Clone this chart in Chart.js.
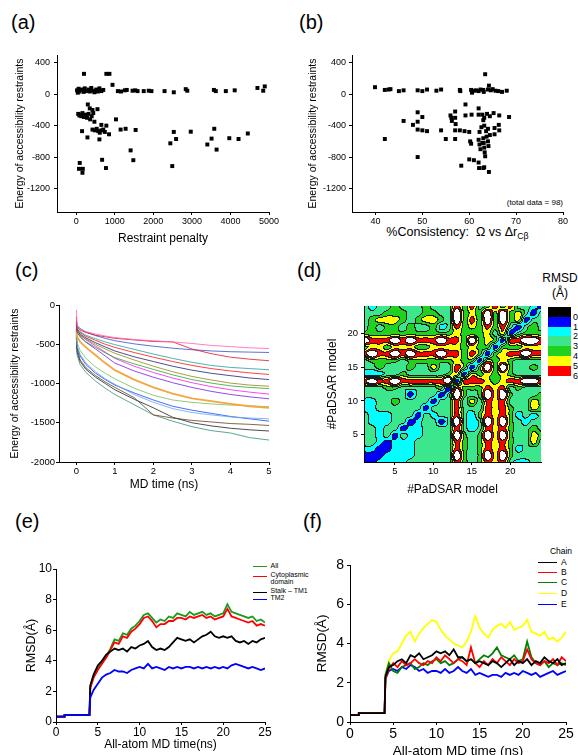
<!DOCTYPE html>
<html>
<head>
<meta charset="utf-8">
<script src="https://cdn.jsdelivr.net/npm/chart.js@4.4.1/dist/chart.umd.min.js"></script>
<style>
  html, body { margin: 0; padding: 0; background: #fff; }
  body { width: 578px; height: 755px; position: relative; overflow: hidden;
         font-family: 'Liberation Sans', Arial, sans-serif; color: #000; }
  canvas { position: absolute; }
  .t { position: absolute; white-space: nowrap; }
  .tag { font-size: 20px; line-height: 20px; }
  .swatch { position: absolute; height: 0; }
  sub { font-size: 70%; vertical-align: -0.35em; line-height: 0; }
</style>
</head>
<body>
<div class="t tag" style="left:11px;top:12px">(a)</div>
<div class="t tag" style="left:299px;top:12px">(b)</div>
<div class="t tag" style="left:15px;top:260px">(c)</div>
<div class="t tag" style="left:297px;top:260px">(d)</div>
<div class="t tag" style="left:15px;top:511px">(e)</div>
<div class="t tag" style="left:303px;top:511px">(f)</div>

<div class="t" style="left:352px;top:226px;width:211px;text-align:center;font-size:12.5px;line-height:13px">%Consistency:&nbsp; &Omega; vs &Delta;r<sub>C&beta;</sub></div>
<div class="t" style="left:463px;top:198px;width:100px;text-align:right;font-size:8px;line-height:10px">(total data = 98)</div>

<div class="t" style="left:540px;top:271px;width:40px;text-align:center;font-size:12px;line-height:14px">RMSD</div>
<div class="t" style="left:540px;top:286px;width:40px;text-align:center;font-size:12px;line-height:14px">(&Aring;)</div>
<div id="colorbar"></div>
<div id="legendE"></div>
<div id="legendF"></div>

<script>
const FONT = "'Liberation Sans', Arial, sans-serif";
Chart.defaults.font.family = FONT;
Chart.defaults.color = '#000';

// ---------- (a) energy vs restraint penalty ----------
const penaltyA = [20, 40, 60, 80, 110, 160, 190, 220, 250, 320, 350, 390, 430, 470, 520, 560, 600, 650, 700,
  1080, 1160, 1260, 1310, 1460, 1530, 1590, 1750, 1880, 1950, 2290, 2530, 2840, 2880, 3570, 3620, 3880, 4110, 4700, 4850, 4890,
  200, 780, 860, 940,
  300, 350, 420, 550, 50, 80, 100, 130, 160, 200, 240, 280, 320, 360, 400, 440, 470, 1030,
  150, 420, 480, 530, 570, 610, 650, 700, 740, 780, 650, 850, 1150, 1280, 1540, 2530, 2970, 3580, 4450,
  290, 600, 2440, 2590, 3400, 3510, 3640, 3970, 4210, 1410,
  670, 1480, 2490, 770, 90, 70, 170, 160];
const energyA = [50, 20, 70, 35, 55, 60, 30, 75, 40, 60, 35, 80, 45, 25, 60, 35, 75, 40, 55,
  40, 35, 50, 55, 45, 50, 40, 40, 45, 40, 40, 25, 65, 45, 55, 40, 40, 50, 80, 45, 100,
  260, 260, 260, 120,
  -130, -180, -200, -190, -250, -270, -260, -280, -240, -290, -260, -300, -250, -320, -280, -240, -350, -320,
  -470, -450, -460, -440, -470, -490, -460, -450, -480, -400, -390, -510, -450, -440, -455, -480, -477, -440, -500,
  -550, -575, -625, -570, -640, -565, -705, -560, -570, -715,
  -835, -840, -915, -940, -875, -950, -950, -1000];
const penaltyTicks = [0, 1000, 2000, 3000, 4000, 5000];
const energyTicks = [-1200, -800, -400, 0, 400];

// ---------- (b) energy vs %consistency ----------
const consistencyB = [39.9, 42, 42.8, 43.2, 45, 46, 49, 50, 51, 53, 54, 58, 58.1, 60.4, 60.6, 61, 61.5, 62, 62.4, 63, 63.1, 63.4, 64, 64.2, 64.6, 65, 65.6, 66.2, 67, 68,
  59.2, 49, 62, 57,
  49, 50, 46, 48, 56, 56.2, 57, 59.2, 60.5, 62, 62.8, 63.2, 63.8, 64.4, 65.2, 66.4, 68.5, 63,
  49, 50, 51, 54, 57, 58, 59, 60, 66.3, 65.4, 66.4, 64, 64.4, 65.4, 62.6, 63.2, 63.6, 62.2, 56.3, 57.1,
  42, 55, 57, 60.2, 60.4, 62, 62.2, 62.4, 63, 63.1, 63.2, 63.3, 63.4, 64, 64.1, 62.8, 63.7, 49,
  60, 61, 58.3, 62, 62.1, 63, 64.2, 63.2];
const energyB = [90, 55, 60, 65, 40, 50, 50, 40, 60, 45, 60, 55, 40, 55, 20, 45, 50, 40, 60, 55, 30, 255, 60, 110, 50, 65, 45, 40, 30, 45,
  -130, -230, -180, -220,
  -350, -290, -340, -390, -270, -300, -300, -270, -260, -260, -260, -300, -250, -280, -240, -270, -290, -330,
  -450, -460, -470, -460, -460, -460, -470, -480, -390, -430, -460, -440, -520, -510, -420, -400, -470, -480, -340, -380,
  -570, -570, -570, -600, -630, -580, -640, -700, -560, -620, -680, -740, -790, -600, -660, -620, -540, -800,
  -830, -840, -910, -870, -940, -940, -990, -930];
const consistencyTicks = [40, 50, 60, 70, 80];

// ---------- (c) accessibility energy during MD ----------
const mdTime = [0, 0.02, 0.1, 0.25, 0.5, 0.75, 1, 1.5, 2, 2.5, 3, 3.5, 4, 4.5, 5];
const mdRuns = [
  [-60, -270, -310, -340, -370, -395, -415, -440, -455, -470, -490, -515, -530, -545, -555],
  [-150, -280, -320, -350, -385, -405, -425, -445, -465, -470, -560, -620, -665, -690, -710],
  [-200, -260, -300, -345, -390, -425, -455, -495, -525, -550, -570, -585, -595, -600, -605],
  [-220, -300, -340, -385, -430, -470, -505, -565, -625, -680, -730, -770, -795, -810, -825],
  [-230, -305, -350, -400, -450, -500, -540, -605, -665, -720, -770, -810, -840, -865, -885],
  [-250, -320, -370, -420, -480, -535, -585, -660, -720, -780, -830, -870, -900, -930, -950],
  [-240, -330, -385, -435, -500, -560, -615, -700, -780, -850, -910, -955, -995, -1020, -1035],
  [-260, -345, -405, -470, -540, -610, -670, -750, -820, -890, -950, -995, -1030, -1050, -1065],
  [-250, -330, -385, -445, -520, -600, -680, -780, -860, -930, -990, -1040, -1080, -1110, -1135],
  [-265, -345, -405, -475, -560, -650, -740, -840, -920, -990, -1050, -1100, -1140, -1170, -1195],
  [-300, -400, -470, -540, -640, -740, -830, -950, -1050, -1130, -1190, -1225, -1260, -1290, -1310],
  [-330, -480, -580, -680, -790, -870, -940, -1060, -1150, -1210, -1240, -1260, -1275, -1285, -1295],
  [-350, -520, -630, -740, -850, -940, -1010, -1140, -1240, -1320, -1370, -1400, -1425, -1440, -1450],
  [-360, -540, -650, -760, -870, -950, -1020, -1120, -1210, -1290, -1340, -1380, -1420, -1450, -1480],
  [-380, -560, -700, -800, -900, -980, -1050, -1180, -1400, -1440, -1470, -1490, -1510, -1520, -1535],
  [-400, -600, -720, -820, -920, -1000, -1080, -1200, -1310, -1430, -1500, -1540, -1570, -1590, -1605],
  [-420, -640, -760, -860, -970, -1060, -1140, -1270, -1400, -1480, -1550, -1600, -1630, -1690, -1720]
];
const mdRunColors = ['#ff5fb0', '#e0102a', '#3050c8', '#20a0a0', '#ff1010', '#202070', '#8a8a10', '#30a030', '#f020f0',
  '#7020e0', '#f4a640', '#70c050', '#60a8e0', '#2040ff', '#604020', '#202020', '#309080'];
const mdTimeTicks = [0, 1, 2, 3, 4, 5];
const mdEnergyTicks = [-2000, -1500, -1000, -500, 0];

// ---------- (d) pairwise RMSD map, rows from model 24 (top) down to model 1 ----------
const rmsdRows = [
  '323343334333646346463321',
  '333444334433845484845313',
  '345554345543846484845133',
  '343443433423645464631343',
  '444444444444544453513444',
  '866686866686648454166886',
  '455455544555545441444555',
  '686686866686646414566866',
  '344443444444544154543333',
  '334333433533641484843343',
  '222334333334515454543333',
  '686686666668166654566886',
  '333443333341644465634333',
  '333333133313843485843334',
  '223343333133635365633354',
  '223333331333633365643354',
  '322233313233632465642323',
  '322233123313832385843233',
  '332331223333632365643343',
  '332313223333843485843354',
  '332122233333643465643353',
  '221122233333643465642333',
  '111222233333843485843333',
  '112222333333643465632233'
];
const rmsdColors = ['#000000', '#0000ff', '#00ffff', '#3ce68c', '#1ed21e', '#ffff00', '#ff0000', '#ffffff'];
const rmsdLabels = ['0', '1', '2', '3', '4', '5', '6'];
const modelTicks = [5, 10, 15, 20];

// ---------- (e) RMSD by region ----------
const aaTime = [0, 1, 1.02, 4, 4.1, 4.5, 5, 5.5, 6, 6.5, 7, 7.5, 8, 8.5, 9, 9.5, 10, 10.5, 11, 11.5, 12, 12.5, 13, 13.5,
  14, 14.5, 15, 15.5, 16, 16.5, 17, 17.5, 18, 18.5, 19, 19.5, 20, 20.5, 21, 21.5, 22, 22.5, 23, 23.5, 24, 24.5, 25];
const rmsdAll = [0.35, 0.35, 0.45, 0.45, 2.3, 3.0, 3.5, 3.9, 4.3, 4.8, 5.4, 5.3, 5.8, 5.7, 6.1, 6.3, 6.6, 7.0, 7.1, 6.8,
  6.5, 6.7, 6.6, 6.9, 6.8, 7.1, 7.0, 6.9, 7.2, 7.0, 7.1, 7.2, 7.0, 7.1, 6.9, 7.0, 7.1, 7.7, 7.2, 7.1, 7.0, 6.9, 6.8, 6.9, 6.6, 6.7, 6.5];
const rmsdCyto = [0.35, 0.35, 0.45, 0.45, 2.2, 2.9, 3.4, 3.8, 4.2, 4.7, 5.2, 5.1, 5.6, 5.5, 5.9, 6.1, 6.4, 6.8, 6.9, 6.6,
  6.2, 6.4, 6.4, 6.6, 6.6, 6.8, 6.8, 6.7, 6.9, 6.8, 6.9, 7.0, 6.8, 6.9, 6.7, 6.8, 6.9, 7.4, 6.9, 6.8, 6.7, 6.6, 6.5, 6.6, 6.3, 6.4, 6.3];
const rmsdStalk = [0.35, 0.35, 0.45, 0.45, 2.4, 3.1, 3.7, 4.0, 4.4, 4.6, 4.8, 4.7, 4.8, 4.6, 4.9, 4.8, 5.0, 5.1, 5.3, 4.9,
  4.7, 4.8, 4.7, 4.9, 5.2, 5.5, 5.4, 5.3, 5.4, 5.2, 5.4, 5.6, 5.7, 5.9, 5.6, 5.5, 5.6, 5.5, 5.6, 5.3, 5.2, 5.3, 5.1, 5.3, 5.2, 5.4, 5.5];
const rmsdTM2 = [0.35, 0.35, 0.45, 0.45, 1.6, 2.1, 2.5, 2.9, 3.1, 3.2, 3.4, 3.3, 3.3, 3.2, 3.4, 3.5, 3.6, 3.5, 3.8, 3.5,
  3.6, 3.5, 3.4, 3.6, 3.5, 3.6, 3.5, 3.6, 3.6, 3.5, 3.6, 3.5, 3.6, 3.5, 3.6, 3.5, 3.6, 3.5, 3.7, 3.8, 3.7, 3.6, 3.5, 3.6, 3.5, 3.4, 3.5];
const regionLabels = ['All', 'Cytoplasmic<br>domain', 'Stalk \u2013 TM1', 'TM2'];
const regionColors = ['#1a9a1a', '#ff0000', '#000000', '#0000ff'];

// ---------- (f) RMSD by chain ----------
const chainA = [0.35, 0.35, 0.45, 0.45, 2.3, 2.8, 2.9, 3.1, 3.2, 3.0, 3.4, 3.3, 3.5, 3.2, 3.3, 3.4, 3.6, 3.5, 3.6, 3.4,
  3.7, 3.3, 3.3, 3.1, 3.2, 3.0, 3.1, 3.0, 2.9, 3.1, 3.0, 2.8, 3.0, 3.2, 2.9, 3.1, 3.0, 3.2, 2.9, 3.1, 3.0, 3.3, 3.1, 3.0, 3.2, 2.9, 3.0];
const chainB = [0.35, 0.35, 0.45, 0.45, 2.2, 2.7, 3.0, 2.8, 3.1, 2.9, 3.0, 3.2, 3.0, 2.9, 3.1, 3.0, 3.3, 3.1, 3.4, 3.2,
  3.0, 3.2, 3.1, 2.9, 3.8, 3.0, 2.8, 3.1, 2.9, 3.2, 3.0, 3.3, 3.1, 2.9, 3.2, 3.0, 3.1, 3.7, 3.2, 3.0, 2.9, 3.1, 3.0, 3.2, 2.9, 3.3, 3.1];
const chainC = [0.35, 0.35, 0.45, 0.45, 2.4, 3.0, 2.6, 2.5, 2.8, 2.9, 3.0, 2.7, 2.8, 3.0, 2.9, 3.1, 3.2, 3.0, 3.1, 2.9,
  3.0, 3.2, 3.3, 3.1, 3.2, 3.0, 3.2, 3.4, 3.3, 3.5, 3.8, 3.4, 3.3, 3.2, 3.4, 3.1, 3.2, 4.1, 3.3, 3.0, 2.9, 3.1, 2.8, 3.0, 2.9, 3.0, 2.9];
const chainD = [0.35, 0.35, 0.45, 0.45, 2.4, 3.1, 3.5, 3.6, 4.0, 4.4, 4.6, 4.1, 4.5, 4.8, 5.0, 5.2, 5.1, 4.7, 4.4, 4.2,
  4.0, 3.9, 3.8, 4.1, 4.6, 5.4, 4.8, 4.5, 4.3, 4.7, 4.9, 5.0, 4.8, 5.1, 4.7, 4.8, 4.9, 5.2, 4.6, 4.5, 4.4, 4.6, 4.2, 4.3, 4.1, 4.3, 4.6];
const chainE = [0.35, 0.35, 0.45, 0.45, 2.2, 2.6, 2.7, 2.6, 2.8, 2.7, 2.9, 2.8, 2.6, 2.7, 2.5, 2.6, 2.6, 2.5, 2.7, 2.5,
  2.6, 2.8, 2.6, 2.5, 2.7, 2.4, 2.5, 2.4, 2.3, 2.4, 2.4, 2.3, 2.5, 2.4, 2.5, 2.4, 2.6, 2.5, 2.4, 2.5, 2.3, 2.4, 2.5, 2.6, 2.4, 2.5, 2.6];
const chainLabels = ['A', 'B', 'C', 'D', 'E'];
const chainColors = ['#000000', '#ff0000', '#008000', '#ffff00', '#0000ff'];
const aaTimeTicks = [0, 5, 10, 15, 20, 25];

// ---------- layout: panel box, plot area [l, t, r, b], title centres ----------
const PANELS = {
  a: { box: [0, 0, 289, 252], area: [57, 55, 269, 212], yTitleX: 20, xTitleY: 239 },
  b: { box: [289, 0, 289, 252], area: [352, 55, 563, 212], yTitleX: 313, xTitleY: 224 },
  c: { box: [0, 252, 289, 253], area: [59, 305, 269, 462], yTitleX: 15, xTitleY: 485 },
  d: { box: [289, 252, 289, 253], area: [364, 306, 541, 462], yTitleX: 333, xTitleY: 490 },
  e: { box: [0, 505, 289, 250], area: [56, 569, 265, 722], yTitleX: 32, xTitleY: 745 },
  f: { box: [289, 505, 289, 250], area: [350, 565, 566, 722], yTitleX: 322, xTitleY: 751 }
};

function axis(o, boxSize, horizontal) {
  return {
    type: 'linear', min: o.min, max: o.max,
    afterBuildTicks: s => { s.ticks = o.ticks.map(v => ({ value: v })); },
    afterFit: s => { if (horizontal) s.height = boxSize; else s.width = boxSize; },
    border: { display: true, color: '#000', width: 1, z: 1 },
    grid: { drawOnChartArea: false, drawTicks: true, tickLength: o.tickLen || 3, tickColor: '#000', tickWidth: 1 },
    ticks: { font: { size: o.fs }, padding: o.pad, maxRotation: 0, autoSkip: false, color: '#000',
             callback: v => String(v) },
    title: { display: !!o.title, text: o.title, font: { size: o.tfs || 10 }, padding: 0, color: '#000' }
  };
}

function makeChart(key, datasets, xo, yo, plugins) {
  const cfg = PANELS[key];
  const [px, py, pw, ph] = cfg.box;
  const [l, t, r, b] = cfg.area;
  const yBox = l - (cfg.yTitleX - 0.6 * yo.tfs);
  const xBox = (cfg.xTitleY + 0.6 * (xo.tfs || 10)) - b;
  const cv = document.createElement('canvas');
  cv.width = pw; cv.height = ph;
  cv.style.left = px + 'px'; cv.style.top = py + 'px';
  document.body.appendChild(cv);
  return new Chart(cv, {
    type: 'scatter',
    data: { datasets },
    options: {
      responsive: false, animation: false, devicePixelRatio: 1,
      layout: { padding: { left: l - yBox - px, top: t - py, right: px + pw - r, bottom: py + ph - b - xBox } },
      plugins: { legend: { display: false }, tooltip: { enabled: false } },
      scales: { x: axis(xo, xBox, true), y: axis(yo, yBox, false) }
    },
    plugins: plugins || []
  });
}

const pts = (xs, ys) => xs.map((x, i) => ({ x, y: ys[i] }));
const squares = (xs, ys) => ({ data: pts(xs, ys), pointStyle: 'rect', pointRadius: 2.8,
  backgroundColor: '#000', borderWidth: 0 });
const line = (xs, ys, color, width) => ({ data: pts(xs, ys), showLine: true, pointRadius: 0,
  borderColor: color, borderWidth: width, tension: 0 });

// (a)
makeChart('a', [squares(penaltyA, energyA)],
  { min: -500, max: 5000, ticks: penaltyTicks, fs: 9, pad: 1, tickLen: 3, title: 'Restraint penalty', tfs: 12 },
  { min: -1500, max: 500, ticks: energyTicks, fs: 9, pad: 4, tickLen: 3, title: 'Energy of accessibility restraints', tfs: 10.5 });

// (b)
makeChart('b', [squares(consistencyB, energyB)],
  { min: 35, max: 80, ticks: consistencyTicks, fs: 9, pad: 1, tickLen: 3, tfs: 10 },
  { min: -1500, max: 500, ticks: energyTicks, fs: 9, pad: 3, tickLen: 3, title: 'Energy of accessibility restraints', tfs: 10.5 });

// (c)
makeChart('c', mdRuns.map((run, i) => line(mdTime, run, mdRunColors[i], i === 10 ? 1.8 : 0.8)),
  { min: -0.45, max: 5, ticks: mdTimeTicks, fs: 9.5, pad: 1, tickLen: 3, title: 'MD time (ns)', tfs: 12 },
  { min: -2000, max: 0, ticks: mdEnergyTicks, fs: 9.5, pad: 1, tickLen: 3, title: 'Energy of accessibility restraints', tfs: 10.5 });

// (d) contour map drawn from the RMSD grid through the chart scales (bicubic between grid nodes)
function cubic(p0, p1, p2, p3, t) {
  return p1 + 0.5 * t * (p2 - p0 + t * (2 * p0 - 5 * p1 + 4 * p2 - p3 + t * (3 * (p1 - p2) + p3 - p0)));
}
function rmsdAt(mx, my) {
  const n = rmsdRows.length;
  const cl = v => Math.min(Math.max(v, 1), n);
  const g = (c, r) => Number(rmsdRows[n - cl(r)][cl(c) - 1]) + 0.5;
  const cx = cl(mx), cy = cl(my);
  const i1 = Math.min(Math.floor(cx), n - 1), j1 = Math.min(Math.floor(cy), n - 1);
  const fx = cx - i1, fy = cy - j1;
  const col = [];
  for (let dj = -1; dj <= 2; dj++) {
    col.push(cubic(g(i1 - 1, j1 + dj), g(i1, j1 + dj), g(i1 + 1, j1 + dj), g(i1 + 2, j1 + dj), fx));
  }
  return cubic(col[0], col[1], col[2], col[3], fy);
}
const rgb = rmsdColors.map(h => [1, 3, 5].map(k => parseInt(h.substr(k, 2), 16)));
const contourPlugin = {
  id: 'contour',
  beforeDatasetsDraw(chart) {
    const { ctx, chartArea: a, scales: { x, y } } = chart;
    const x0 = Math.round(a.left), y0 = Math.round(a.top);
    const w = Math.round(a.right) - x0, h = Math.round(a.bottom) - y0;
    const band = new Int8Array(w * h);
    for (let j = 0; j < h; j++) {
      const my = y.getValueForPixel(y0 + j + 0.5);
      for (let i = 0; i < w; i++) {
        const mx = x.getValueForPixel(x0 + i + 0.5);
        band[j * w + i] = Math.max(0, Math.min(7, Math.floor(rmsdAt(mx, my))));
      }
    }
    const img = ctx.createImageData(w, h);
    for (let j = 0; j < h; j++) {
      for (let i = 0; i < w; i++) {
        const k = j * w + i, bk = band[k];
        const edge = (i > 0 && band[k - 1] !== bk) || (j > 0 && band[k - w] !== bk);
        const c = edge ? [25, 25, 25] : rgb[bk];
        img.data[k * 4] = c[0]; img.data[k * 4 + 1] = c[1]; img.data[k * 4 + 2] = c[2]; img.data[k * 4 + 3] = 255;
      }
    }
    ctx.putImageData(img, x0, y0);
  }
};
makeChart('d', [{ data: [] }],
  { min: 1, max: 24, ticks: modelTicks, fs: 9.5, pad: 1, tickLen: 3, title: '#PaDSAR model', tfs: 12 },
  { min: 1, max: 24, ticks: modelTicks, fs: 9.5, pad: 3, tickLen: 3, title: '#PaDSAR model', tfs: 12 },
  [contourPlugin]);

// colour bar for (d)
(function () {
  const bar = document.getElementById('colorbar');
  const top = 307, step = 9.8;
  let html = '';
  rmsdLabels.forEach((lab, i) => {
    html += `<div style="position:absolute;left:548px;top:${top + i * step}px;width:23px;height:${step + 0.3}px;background:${rmsdColors[i]}"></div>`;
    html += `<div class="t" style="left:573px;top:${top + (i + 1) * step - 5}px;font-size:9px;line-height:10px">${lab}</div>`;
  });
  bar.innerHTML = html;
})();

// (e)
makeChart('e', [
    line(aaTime, rmsdTM2, regionColors[3], 1.8),
    line(aaTime, rmsdStalk, regionColors[2], 1.8),
    line(aaTime, rmsdCyto, regionColors[1], 1.8),
    line(aaTime, rmsdAll, regionColors[0], 1.8)
  ],
  { min: 0, max: 25, ticks: aaTimeTicks, fs: 12, pad: 0, tickLen: 3, title: 'All-atom MD time(ns)', tfs: 12 },
  { min: 0, max: 10, ticks: [0, 2, 4, 6, 8, 10], fs: 12, pad: 1, tickLen: 3, title: 'RMSD(\u00c5)', tfs: 12.5 });

// (f)
makeChart('f', [
    line(aaTime, chainA, chainColors[0], 1.8),
    line(aaTime, chainB, chainColors[1], 1.8),
    line(aaTime, chainC, chainColors[2], 1.8),
    line(aaTime, chainE, chainColors[4], 1.8),
    line(aaTime, chainD, chainColors[3], 1.8)
  ],
  { min: 0, max: 25, ticks: aaTimeTicks, fs: 14, pad: 1, tickLen: 3, title: 'All-atom MD time (ns)', tfs: 13.5 },
  { min: 0, max: 8, ticks: [0, 2, 4, 6, 8], fs: 14, pad: 3, tickLen: 3, title: 'RMSD(\u00c5)', tfs: 13.5 });

// legends for (e) and (f)
function legend(id, items, x0, len, textX, fs, lh) {
  document.getElementById(id).innerHTML = items.map(it =>
    `<div class="swatch" style="left:${x0}px;top:${it.y}px;width:${len}px;border-top:1.3px solid ${it.color}"></div>` +
    `<div class="t" style="left:${textX}px;top:${it.y - lh / 2}px;font-size:${fs}px;line-height:${lh}px">${it.label}</div>`
  ).join('');
}
const regionRowsY = [566, 575.5, 591.5, 598.5];
legend('legendE', regionLabels.map((label, i) => ({ label, color: regionColors[i], y: regionRowsY[i] })),
  253, 14, 270.5, 7, 6.5);
const chainRowsY = [561.7, 571.7, 581.7, 592.7, 603.7];
legend('legendF', chainLabels.map((label, i) => ({ label, color: chainColors[i], y: chainRowsY[i] })),
  538, 19, 561, 8.5, 10);
document.getElementById('legendF').insertAdjacentHTML('beforeend',
  '<div class="t" style="left:546px;top:546px;width:30px;text-align:center;font-size:8.5px;line-height:10px">Chain</div>');
</script>
</body>
</html>
